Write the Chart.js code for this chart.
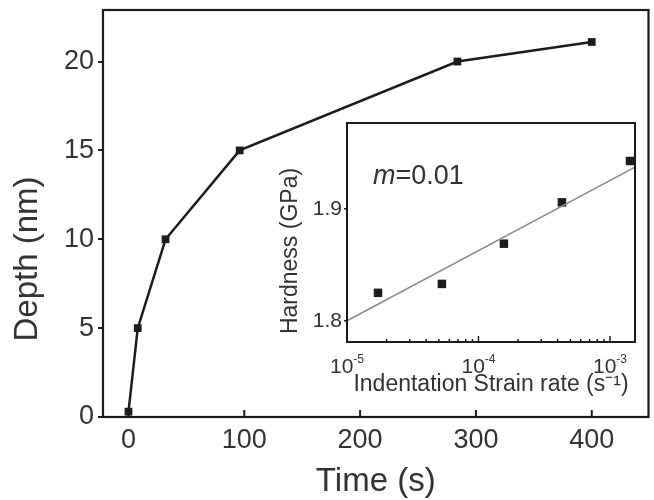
<!DOCTYPE html>
<html>
<head>
<meta charset="utf-8">
<script src="https://cdn.jsdelivr.net/npm/chart.js@4.4.1/dist/chart.umd.min.js"></script>
<style>
  html, body { margin: 0; padding: 0; background: #fff; }
  #wrap { position: relative; width: 654px; height: 500px; overflow: hidden; }
  #main { position: absolute; left: 0; top: 0; }
  #inset { position: absolute; left: 260px; top: 110px; }
</style>
</head>
<body>
<div id="wrap">
  <canvas id="main" width="654" height="500"></canvas>
  <canvas id="inset" width="392" height="290"></canvas>
</div>
<script>
// main curve: indentation depth vs hold time
const timeS = [0, 8, 32, 96, 284, 400];
const depthNm = [0.3, 5, 10, 15, 20, 21.1];
const timeTicks = [0, 100, 200, 300, 400];
const depthTicks = [0, 5, 10, 15, 20];

// inset: hardness vs strain rate (log x)
const strainRate = [1.72e-5, 5.27e-5, 1.56e-4, 4.31e-4, 1.42e-3];
const hardness = [1.825, 1.833, 1.869, 1.906, 1.943];
const fitRate = [1e-5, 1.55e-3];
const fitHardness = [1.800, 1.9375];
const rateTicks = [1e-5, 1e-4, 1e-3];
const rateTickExp = ['-5', '-4', '-3'];
const hardTicks = [1.8, 1.9];

const FONT = "'Liberation Sans', Arial, sans-serif";
const INK = '#1c1c1c';
const TXT = '#333333';

const toPts = (xs, ys) => xs.map((x, i) => ({ x: x, y: ys[i] }));
const setTicks = arr => s => { s.ticks = arr.map(v => ({ value: v })); };
// fixed axis size, no extra room reserved for edge labels
const fixSize = (key, val) => s => {
  s[key] = val;
  s.paddingTop = s.paddingBottom = s.paddingLeft = s.paddingRight = 0;
};

// box around the plot area
const frame = {
  id: 'frame',
  afterDraw(chart, args, opts) {
    const { ctx, chartArea: a } = chart;
    ctx.save();
    ctx.strokeStyle = INK;
    ctx.lineWidth = opts.width;
    ctx.strokeRect(a.left, a.top, a.right - a.left, a.bottom - a.top);
    ctx.restore();
  }
};

// ticks pointing into the plot on the bottom axis
const inTicks = {
  id: 'inTicks',
  afterDraw(chart, args, opts) {
    const ctx = chart.ctx;
    const s = chart.scales.x;
    const y0 = chart.chartArea.bottom;
    ctx.save();
    ctx.strokeStyle = INK;
    ctx.lineWidth = opts.width;
    ctx.beginPath();
    (opts.major || []).forEach(v => {
      const px = s.getPixelForValue(v);
      ctx.moveTo(px, y0);
      ctx.lineTo(px, y0 - opts.len);
    });
    (opts.minor || []).forEach(v => {
      const px = s.getPixelForValue(v);
      ctx.moveTo(px, y0);
      ctx.lineTo(px, y0 - opts.minorLen);
    });
    ctx.stroke();
    ctx.restore();
  }
};

// free text: rotated axis titles, annotations, 10^n labels
const notes = {
  id: 'notes',
  afterDraw(chart, args, opts) {
    const ctx = chart.ctx;
    (opts.items || []).forEach(it => {
      ctx.save();
      ctx.fillStyle = it.color || TXT;
      ctx.translate(it.x, it.y);
      if (it.rot) ctx.rotate(it.rot);
      ctx.textBaseline = it.baseline || 'alphabetic';
      let w = 0;
      it.parts.forEach(p => {
        ctx.font = (p.italic ? 'italic ' : '') + p.size + 'px ' + FONT;
        p.w = ctx.measureText(p.t).width;
        w += p.w;
      });
      let x = it.align === 'center' ? -w / 2 : 0;
      it.parts.forEach(p => {
        ctx.font = (p.italic ? 'italic ' : '') + p.size + 'px ' + FONT;
        ctx.textAlign = 'left';
        ctx.fillText(p.t, x, -(p.rise || 0));
        x += p.w;
      });
      ctx.restore();
    });
  }
};

new Chart(document.getElementById('main'), {
  type: 'line',
  data: {
    datasets: [{
      data: toPts(timeS, depthNm),
      borderColor: INK,
      borderWidth: 2.5,
      pointStyle: 'rect',
      pointRadius: 5.5,
      pointBackgroundColor: INK,
      pointBorderColor: INK,
      pointBorderWidth: 0,
      tension: 0,
      clip: false
    }]
  },
  options: {
    responsive: false,
    devicePixelRatio: 1,
    animation: false,
    layout: { padding: { left: 0, top: 10, right: 2, bottom: 0 } },
    plugins: {
      legend: { display: false },
      tooltip: { enabled: false },
      frame: { width: 2.2 },
      inTicks: { major: timeTicks, len: 7, width: 2 },
      notes: {
        items: [
          { x: 28, y: 259, rot: -Math.PI / 2, align: 'center', baseline: 'middle',
            parts: [{ t: 'Depth (nm)', size: 33 }] }
        ]
      }
    },
    scales: {
      x: {
        type: 'linear',
        min: -22,
        max: 449,
        afterBuildTicks: setTicks(timeTicks),
        afterFit: fixSize('height', 83),
        grid: { display: false },
        border: { display: false },
        ticks: { color: TXT, font: { family: FONT, size: 27 }, padding: -1, maxRotation: 0 },
        title: { display: true, text: 'Time (s)', color: TXT, font: { family: FONT, size: 33 }, padding: { top: 0, bottom: -2 } }
      },
      y: {
        type: 'linear',
        min: 0,
        max: 22.9,
        afterBuildTicks: setTicks(depthTicks),
        afterFit: fixSize('width', 103),
        grid: { drawOnChartArea: false, drawTicks: true, tickLength: 5, color: INK, lineWidth: 2 },
        border: { display: false },
        ticks: { color: TXT, font: { family: FONT, size: 27 }, padding: 4 }
      }
    }
  },
  plugins: [frame, inTicks, notes]
});

// minor log ticks 2..9 within each decade
const minorRate = [];
[1e-5, 1e-4].forEach(d => { for (let k = 2; k <= 9; k++) minorRate.push(k * d); });

const insetChart = new Chart(document.getElementById('inset'), {
  type: 'scatter',
  data: {
    datasets: [
      {
        data: toPts(fitRate, fitHardness),
        showLine: true,
        borderColor: '#8c8c8c',
        borderWidth: 1.6,
        pointRadius: 0,
        clip: false
      },
      {
        data: toPts(strainRate, hardness),
        pointStyle: 'rect',
        pointRadius: 6,
        pointBackgroundColor: INK,
        pointBorderColor: INK,
        pointBorderWidth: 0,
        clip: false
      }
    ]
  },
  options: {
    responsive: false,
    devicePixelRatio: 1,
    animation: false,
    layout: { padding: { left: 0, top: 13, right: 17, bottom: 0 } },
    plugins: {
      legend: { display: false },
      tooltip: { enabled: false },
      frame: { width: 2 },
      inTicks: { major: rateTicks, len: 6, minor: minorRate, minorLen: 3, width: 1.5 },
      notes: { items: [] }
    },
    scales: {
      x: {
        type: 'logarithmic',
        min: 1e-5,
        max: 1.55e-3,
        afterFit: fixSize('height', 58),
        grid: { display: false },
        border: { display: false },
        ticks: { display: false },
        title: { display: true, text: 'Indentation Strain rate (s\u207B\u00B9)', color: TXT, font: { family: FONT, size: 23 }, padding: { top: 0, bottom: 2 } }
      },
      y: {
        type: 'linear',
        min: 1.781,
        max: 1.977,
        afterBuildTicks: setTicks(hardTicks),
        afterFit: fixSize('width', 87),
        grid: { drawOnChartArea: false, drawTicks: true, tickLength: 3, color: INK, lineWidth: 1.5 },
        border: { display: false },
        ticks: { color: TXT, font: { family: FONT, size: 21 }, padding: 2, callback: v => v.toFixed(1) }
      }
    }
  },
  plugins: [frame, inTicks, notes]
});

// text items that need the scale positions of the inset
(function () {
  const a = insetChart.chartArea;
  const sx = insetChart.scales.x;
  const items = [
    { x: 31, y: 141, rot: -Math.PI / 2, align: 'center', baseline: 'middle',
      parts: [{ t: 'Hardness (GPa)', size: 23 }] },
    { x: a.left + 26, y: a.top + 61, parts: [{ t: 'm', size: 27, italic: true }, { t: '=0.01', size: 27 }] }
  ];
  rateTicks.forEach((v, i) => {
    items.push({ x: sx.getPixelForValue(v), y: a.bottom + 31, align: 'center',
      parts: [{ t: '10', size: 21 }, { t: rateTickExp[i], size: 12, rise: 10 }] });
  });
  insetChart.options.plugins.notes.items = items;
  insetChart.update();
})();
</script>
</body>
</html>
